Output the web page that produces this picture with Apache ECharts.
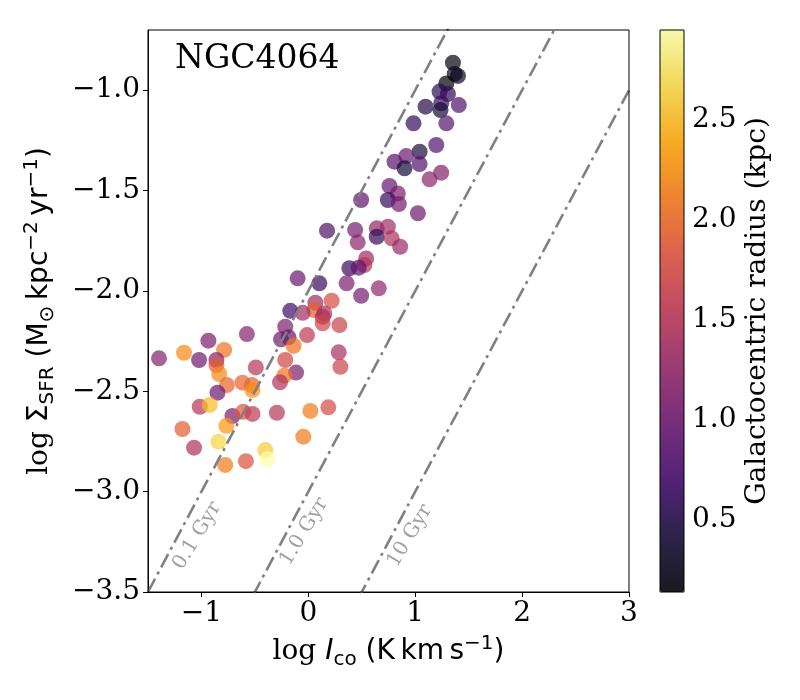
<!DOCTYPE html>
<html>
<head>
<meta charset="utf-8">
<script src="https://cdn.jsdelivr.net/npm/echarts@6/dist/echarts.min.js"></script>
<style>html,body{margin:0;padding:0;background:#fff}#c{width:800px;height:700px}</style>
</head>
<body>
<div id="c"></div>
<script>
const logICO = [1.353,1.400,1.369,1.291,1.228,1.306,1.243,1.408,1.097,1.237,0.984,1.291,1.197,1.041,0.916,0.806,1.041,0.900,1.243,1.134,0.759,0.837,0.744,0.847,0.494,1.025,0.175,0.438,0.640,0.744,0.640,0.780,0.462,0.859,0.541,0.525,0.384,0.471,-0.100,0.103,0.358,0.659,0.494,0.218,0.066,0.056,0.150,0.134,0.134,-0.053,-0.169,0.291,-0.216,-0.256,-0.185,-0.138,-0.012,0.284,0.300,-0.216,-0.115,-0.225,-0.265,-0.294,0.019,0.187,-1.397,-1.163,-0.935,-0.788,-1.022,-0.860,-0.860,-0.834,-0.762,-0.850,-0.575,-0.491,-0.616,-0.528,-0.523,-1.016,-0.922,-0.710,-0.609,-0.522,-1.178,-0.767,-0.841,-1.069,-0.403,-0.382,-0.047,-0.778,-0.584];
const logSFR = [-0.863,-0.929,-0.919,-0.966,-1.007,-1.019,-1.065,-1.074,-1.082,-1.099,-1.165,-1.165,-1.273,-1.306,-1.328,-1.356,-1.368,-1.389,-1.411,-1.444,-1.477,-1.514,-1.547,-1.567,-1.547,-1.613,-1.700,-1.696,-1.688,-1.680,-1.730,-1.738,-1.758,-1.780,-1.838,-1.871,-1.887,-1.884,-1.937,-1.962,-1.962,-1.987,-2.024,-2.049,-2.059,-2.095,-2.112,-2.129,-2.161,-2.109,-2.099,-2.170,-2.178,-2.241,-2.231,-2.273,-2.220,-2.306,-2.378,-2.344,-2.407,-2.422,-2.455,-2.607,-2.598,-2.580,-2.336,-2.308,-2.248,-2.294,-2.344,-2.344,-2.369,-2.414,-2.469,-2.507,-2.215,-2.381,-2.457,-2.469,-2.494,-2.577,-2.568,-2.623,-2.602,-2.613,-2.688,-2.672,-2.751,-2.781,-2.793,-2.839,-2.726,-2.867,-2.848];
const radius = [0.20,0.30,0.25,0.14,0.55,0.60,0.65,0.80,0.50,0.40,0.60,0.85,0.80,0.45,1.00,0.85,0.80,0.40,1.15,1.20,0.95,1.10,0.60,1.05,0.90,1.00,0.80,1.05,1.25,1.35,0.60,1.45,1.20,1.30,1.35,1.50,0.65,0.90,0.95,0.65,1.10,1.25,1.05,1.75,1.35,1.95,1.45,1.40,1.70,1.35,0.70,1.65,1.10,1.00,0.95,2.05,1.55,1.40,1.65,1.70,1.10,2.05,1.45,1.50,2.10,1.75,1.15,2.20,1.10,2.05,1.00,1.15,1.90,2.20,1.95,1.00,1.15,1.50,1.95,1.95,2.25,1.50,2.50,1.10,1.85,1.55,1.90,2.30,2.65,1.45,2.60,2.95,2.10,2.10,1.80];

const depletionTimes = [0.1, 1.0, 10];          // Gyr
const depletionLabels = ['0.1 Gyr', '1.0 Gyr', '10 Gyr'];
const depletionLabelX = [-1.04, -0.04, 0.95];
const depletionLabelY = [-3.22, -3.20, -3.22];

const xTicks = [-1, 0, 1, 2, 3];
const yTicks = [-3.5, -3.0, -2.5, -2.0, -1.5, -1.0];
const cbTicks = [0.5, 1.0, 1.5, 2.0, 2.5];
const xRange = [-1.5, 3];
const yRange = [-3.5, -0.7];
const rRange = [0.14, 2.95];

const inferno = ['#000004','#160b39','#420a68','#6a176e','#932667','#bc3754','#dd513a','#f37819','#fca50a','#f6d746','#fcffa4'];

const serif = 'DejaVu Serif';
const sans = 'DejaVu Sans';
const minus = v => (v < 0 ? '\u2212' : '') + Math.abs(v);

const pts = logICO.map((x, i) => [x, logSFR[i], radius[i]]);

const lineSeries = depletionTimes.map(t => ({
  type: 'line', xAxisIndex: 0, yAxisIndex: 0, symbol: 'none', clip: true, z: 5,
  lineStyle: { color: '#808080', width: 2.6, type: [15, 5, 3, 5] },
  data: xRange.map(x => [x, x - 3 - Math.log10(t)])
}));

const FS = 28, SS = 20, LH = 36;
const richTitle = {
  s: { fontFamily: serif, fontSize: FS, color: '#000', lineHeight: LH },
  i: { fontFamily: sans, fontStyle: 'italic', fontSize: FS, color: '#000', lineHeight: LH },
  a: { fontFamily: sans, fontSize: FS, color: '#000', lineHeight: LH },
  sub: { fontFamily: sans, fontSize: SS, color: '#000', lineHeight: LH, verticalAlign: 'bottom' },
  sup: { fontFamily: sans, fontSize: SS, color: '#000', lineHeight: LH, verticalAlign: 'top' }
};

const chart = echarts.init(document.getElementById('c'), null, { renderer: 'canvas' });
chart.setOption({
  animation: false,
  backgroundColor: '#fff',
  title: {
    text: 'NGC4064', left: 170, top: 38,
    textStyle: { fontFamily: serif, fontSize: 33, fontWeight: 'normal', color: '#000' }
  },
  grid: [
    { left: 148, top: 30, width: 481, height: 562, show: true, borderColor: '#000', borderWidth: 1, backgroundColor: 'transparent', z: 10 },
    { left: 660, top: 30, width: 24, height: 562, show: true, borderColor: '#000', borderWidth: 1, backgroundColor: 'transparent', z: 10 }
  ],
  xAxis: [
    {
      type: 'value', gridIndex: 0, min: xRange[0], max: xRange[1],
      splitLine: { show: false },
      axisLine: { show: true, onZero: false, lineStyle: { color: '#000', width: 1 } },
      axisTick: { show: true, length: 5, customValues: xTicks, lineStyle: { color: '#000' } },
      axisLabel: { customValues: xTicks, formatter: v => minus(v), fontFamily: serif, fontSize: FS, color: '#000', margin: 8 },
      name: '{s|log }{i|I}{sub|co}{a| (K\u2009km\u2009s}{sup|\u22121}{a|)}',
      nameLocation: 'middle', nameGap: 42,
      nameTextStyle: { color: '#000', rich: richTitle }
    },
    { type: 'value', gridIndex: 1, min: 0, max: 1, show: false }
  ],
  yAxis: [
    {
      type: 'value', gridIndex: 0, min: yRange[0], max: yRange[1],
      splitLine: { show: false },
      axisLine: { show: true, onZero: false, lineStyle: { color: '#000', width: 1 } },
      axisTick: { show: true, length: 5, customValues: yTicks, lineStyle: { color: '#000' } },
      axisLabel: { customValues: yTicks, formatter: v => (v < 0 ? '\u2212' : '') + Math.abs(v).toFixed(1), fontFamily: serif, fontSize: FS, color: '#000', margin: 8 },
      name: '{s|log }{a|\u03a3}{sub|SFR}{a| (M}{sub|\u2299}{a|\u2009kpc}{sup|\u22122}{a|\u2009yr}{sup|\u22121}{a|)}',
      nameLocation: 'middle', nameGap: 90, nameRotate: 90,
      nameTextStyle: { color: '#000', rich: richTitle }
    },
    {
      type: 'value', gridIndex: 1, min: rRange[0], max: rRange[1], position: 'right',
      splitLine: { show: false },
      axisLine: { show: false },
      axisTick: { show: true, length: 5, customValues: cbTicks, lineStyle: { color: '#000' } },
      axisLabel: { customValues: cbTicks, formatter: v => v.toFixed(1), fontFamily: serif, fontSize: FS, color: '#000', margin: 8 },
      name: 'Galactocentric radius (kpc)', nameLocation: 'middle', nameGap: 60, nameRotate: 90,
      nameTextStyle: { fontFamily: serif, fontSize: 28, color: '#000' }
    }
  ],
  visualMap: {
    type: 'continuous', seriesIndex: 0, dimension: 2,
    min: rRange[0], max: rRange[1], calculable: false, realtime: false,
    left: 660, top: 30, itemWidth: 24, itemHeight: 562, padding: 0,
    text: null, showLabel: false, hoverLink: false,
    inRange: { color: inferno, colorAlpha: 0.88 }
  },
  series: [
    {
      type: 'scatter', xAxisIndex: 0, yAxisIndex: 0, symbolSize: 16, z: 3,
      itemStyle: { borderWidth: 0 },
      data: pts
    },
    ...lineSeries,
    {
      type: 'scatter', xAxisIndex: 0, yAxisIndex: 0, symbolSize: 0, z: 6, silent: true,
      data: depletionLabels.map((n, i) => ({ name: n, value: [depletionLabelX[i], depletionLabelY[i]] })),
      label: { show: true, position: 'inside', formatter: p => p.name, rotate: 59, fontFamily: serif, fontSize: 20, color: '#8a8a8a' }
    }
  ]
});
</script>
</body>
</html>
